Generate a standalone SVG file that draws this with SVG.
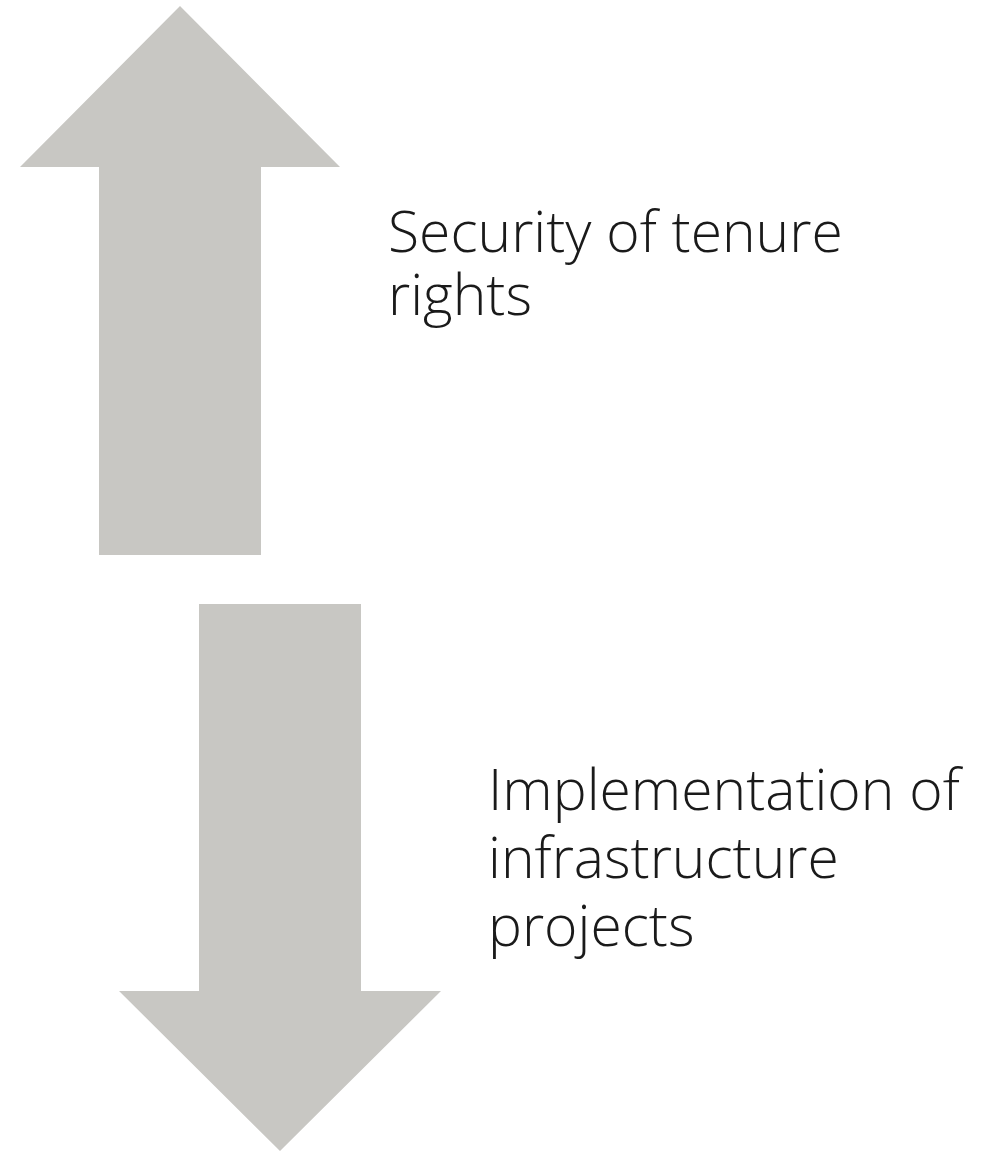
<svg xmlns="http://www.w3.org/2000/svg" width="985" height="1152" viewBox="0 0 985 1152">
<style>
.arrow{fill:#c8c7c3;}
.lbl{font-family:"Open Sans","Liberation Sans",sans-serif;font-weight:300;font-size:57px;fill:#1a1a1a;}
</style>
<rect width="985" height="1152" fill="#ffffff"/>
<g id="up-arrow">
<polygon class="arrow" points="180,6 340,167 261,167 261,555 99,555 99,167 20,167"/>
</g>
<g id="down-arrow">
<polygon class="arrow" points="199,604 361,604 361,991 441,991 280,1151 119,991 199,991"/>
</g>
<g id="label-security">
<text class="lbl" x="388" y="252">Security of tenure</text>
<text class="lbl" x="388" y="315">rights</text>
</g>
<g id="label-implementation">
<text class="lbl" x="488" y="810">Implementation of</text>
<text class="lbl" x="488" y="878">infrastructure</text>
<text class="lbl" x="488" y="946">projects</text>
</g>
<g id="connectors"></g>
</svg>
